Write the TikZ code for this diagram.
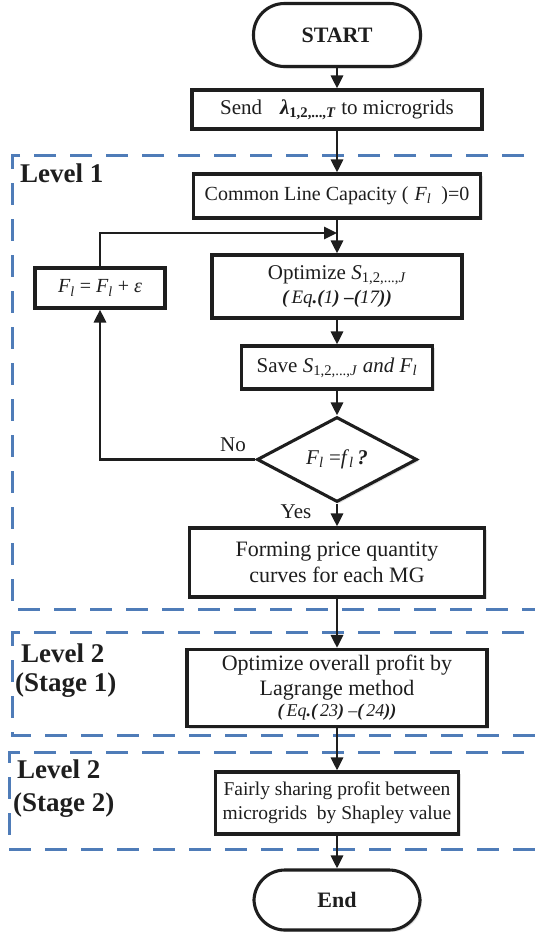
\documentclass[tikz,border=0pt]{standalone}
\usepackage{fontspec}
\setmainfont{Liberation Serif}
\usetikzlibrary{arrows.meta,shapes.geometric,shadows}
\definecolor{dashblue}{HTML}{4F7CB8}
\definecolor{ink}{HTML}{1E1E1E}
\begin{document}
\begin{tikzpicture}[x=1pt,y=-1pt,
  box/.style={draw=ink, line width=3.1pt, fill=white, inner sep=0pt, align=center, text=ink,
    font=\fontsize{21}{25}\selectfont,
    drop shadow={shadow xshift=2pt,shadow yshift=-2pt,opacity=0.3,fill=black!40}},
  term/.style={box, rounded corners=31pt, font=\bfseries\fontsize{22}{26}\selectfont},
  dia/.style={box, shape=diamond, font=\fontsize{21}{25}\selectfont},
  arr/.style={line width=2.8pt, draw=ink, -{Triangle[length=13pt,width=12pt]}},
  lvl/.style={draw=dashblue, line width=3pt, dash pattern=on 22pt off 14pt},
  lvltxt/.style={anchor=west, inner sep=0pt, text=ink, font=\bfseries\fontsize{27}{31}\selectfont},
  lbl/.style={inner sep=0pt, text=ink, font=\fontsize{21}{25}\selectfont}
]
\useasboundingbox (0,0) rectangle (535,932);
\clip (0,0) rectangle (535,932);

% level regions
\draw[lvl] (560,155) -- (12,155) -- (12,609) -- (560,609);
\draw[lvl] (560,632) -- (12,632) -- (12,735) -- (560,735);
\draw[lvl] (560,752) -- (9,752) -- (9,849) -- (560,849);

\node[lvltxt] (l1) at (20,173) {Level 1};
\node[lvltxt] (l2a) at (21,653) {Level 2};
\node[lvltxt] (s1) at (15,685) {(Stage 1)};
\node[lvltxt] (l2b) at (17,769) {Level 2};
\node[lvltxt] (s2) at (13,805) {(Stage 2)};

% nodes
\node[term, minimum width=167, minimum height=63] (start) at (337,35) {START};
\node[box, minimum width=290, minimum height=39] (send) at (337,109.5)
  {Send\hspace{18pt}\textbf{\textit{λ}}\textsubscript{\textbf{1,2,...,\textit{T}}} to microgrids};
\node[box, minimum width=287, minimum height=44, font=\fontsize{20}{24}\selectfont] (cap) at (337,196)
  {Common Line Capacity (\hspace{6pt}\textit{F}\textsubscript{\textit{l}}\hspace{10pt})=0};
\coordinate (join) at (337,233);
\node[box, minimum width=250, minimum height=63] (opt) at (337,286.5)
  {Optimize \textit{S}\textsubscript{1,2,...,\textit{J}}\\[-1pt]
   {\itshape\fontsize{19}{22}\selectfont \textbf{(}\,Eq\textbf{.(}1\textbf{)} \textbf{–(}17\textbf{))}}};
\node[box, minimum width=130, minimum height=40, font=\fontsize{20}{24}\selectfont] (inc) at (100,288)
  {\textit{F}\textsubscript{\textit{l}} = \textit{F}\textsubscript{\textit{l}} + \textit{ε}};
\node[box, minimum width=191, minimum height=43] (save) at (337,367.5)
  {Save \textit{S}\textsubscript{1,2,...,\textit{J}} \textit{and F}\textsubscript{\textit{l}}};
\node[dia, minimum width=160, minimum height=85] (dec) at (337,459.5)
  {\textit{F}\textsubscript{\textit{l}} =\textit{f}\textsubscript{\textit{l}}\,\textbf{\textit{?}}};
\node[box, minimum width=295, minimum height=69, font=\fontsize{22}{26}\selectfont] (form) at (337,562.5)
  {Forming price quantity\\curves for each MG};
\node[box, minimum width=300, minimum height=77, font=\fontsize{22}{25}\selectfont] (lag) at (337,688)
  {Optimize overall profit by\\Lagrange method\\[-4pt]
   {\itshape\fontsize{18}{20}\selectfont \textbf{(}\,Eq\textbf{.(}\,23\textbf{)} –\textbf{(}\,24\textbf{))}}};
\node[box, minimum width=243, minimum height=62, font=\fontsize{19.5}{24}\selectfont] (fair) at (337,803)
  {Fairly sharing profit between\\microgrids\ \ by Shapley value};
\node[term, minimum width=166, minimum height=60] (end) at (337,900) {End};

% connectors
\draw[arr] (start.south) -- (start.south |- send.north);
\draw[arr] (send.south) -- (send.south |- cap.north);
\draw[arr] (cap.south) -- (cap.south |- opt.north);
\draw[arr] (opt.south) -- (opt.south |- save.north);
\draw[arr] (save.south) -- (save.south |- dec.north);
\draw[arr] (dec.south) -- (dec.south |- form.north);
\draw[arr] (form.south) -- (form.south |- lag.north);
\draw[arr] (lag.south) -- (lag.south |- fair.north);
\draw[arr] (fair.south) -- (fair.south |- end.north);
\draw[arr] (dec.west) -- (dec.west -| inc.south) -- (inc.south);
\draw[arr] (inc.north) |- (join);

\node[lbl] (no) at (233,445) {No};
\node[lbl] (yes) at (296,512) {Yes};
\end{tikzpicture}
\end{document}
